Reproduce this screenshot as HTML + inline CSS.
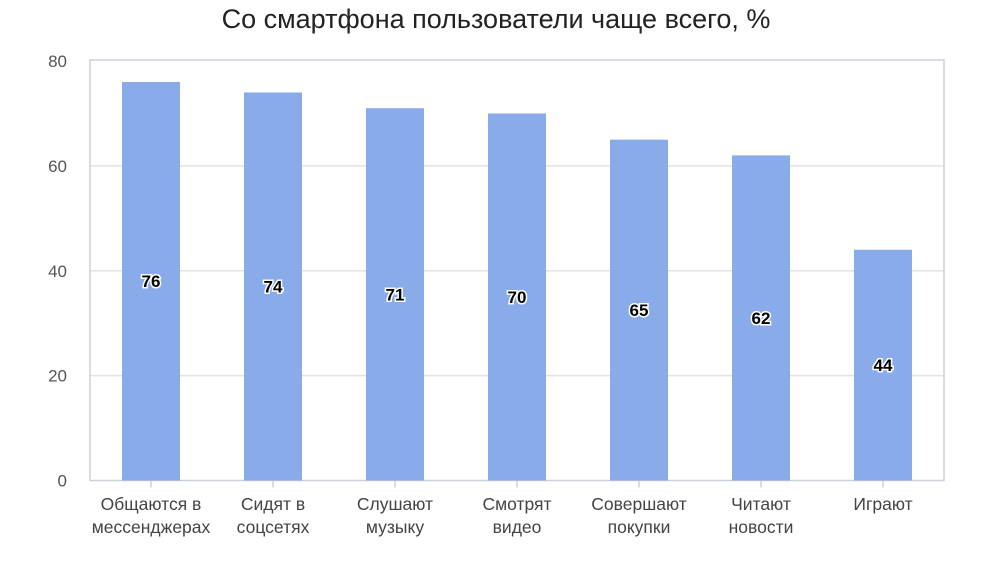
<!DOCTYPE html>
<html><head><meta charset="utf-8"><style>
body{margin:0;background:#fff;}
svg text{font-family:"Liberation Sans",sans-serif;}
</style></head><body>
<svg width="1006" height="575" id="c">
<text x="496" y="28" text-anchor="middle" font-size="27" fill="#222">Со смартфона пользователи чаще всего, %</text>
<g id="grid"></g><g id="bars"></g><g id="labels"></g>
</svg>
<script>
const categories1=["Общаются в","Сидят в","Слушают","Смотрят","Совершают","Читают","Играют"];
const categories2=["мессенджерах","соцсетях","музыку","видео","покупки","новости",""];
const values=[76,74,71,70,65,62,44];
const ticks=[0,20,40,60,80];
const NS="http://www.w3.org/2000/svg";
const L=90,R=944,T=61,B=480.5,max=80;
const y=v=>B-(B-T)*v/max;
const step=(R-L)/values.length;
const x=i=>L+step*(i+0.5);
function mk(tag,attrs,parent,text){const e=document.createElementNS(NS,tag);for(const k in attrs)e.setAttribute(k,attrs[k]);if(text!==undefined)e.textContent=text;document.getElementById(parent).appendChild(e);return e;}
const g="grid";
ticks.forEach(t=>{
 if(t>0&&t<80){const l=mk("line",{x1:L,x2:R,y1:y(t),y2:y(t),stroke:"#e3e3e3","stroke-width":1.5},g);
 
 }
 const tx=mk("text",{x:67,y:y(t)+6,"text-anchor":"end","font-size":17,fill:"#555"},g,t);
 
 
});
const fr=mk("rect",{x:L,y:60,width:R-L,height:B-60,fill:"none",stroke:"#cdd0d8","stroke-width":1.5},g);


values.forEach((v,i)=>{
 const b=mk("rect",{x:x(i)-29,y:y(v),width:58,height:B-y(v),fill:"#8aabea"},"bars");
 
 
 const tk=mk("line",{x1:x(i),x2:x(i),y1:B,y2:B+7,stroke:"#cdd0d8","stroke-width":1.5},"bars");
 
 
 const lb=mk("text",{x:x(i),y:(y(v)+B)/2+6,"text-anchor":"middle","font-size":17,"font-weight":"bold",fill:"#000",stroke:"#fff","stroke-width":3,"paint-order":"stroke"},"labels",v);
 
 
 const c1=mk("text",{x:x(i),y:510,"text-anchor":"middle","font-size":17.5,fill:"#444"},"labels",categories1[i]);
 
 
 const c2=mk("text",{x:x(i),y:533,"text-anchor":"middle","font-size":17.5,fill:"#444"},"labels",categories2[i]);
 
 
});
</script>
</body></html>
